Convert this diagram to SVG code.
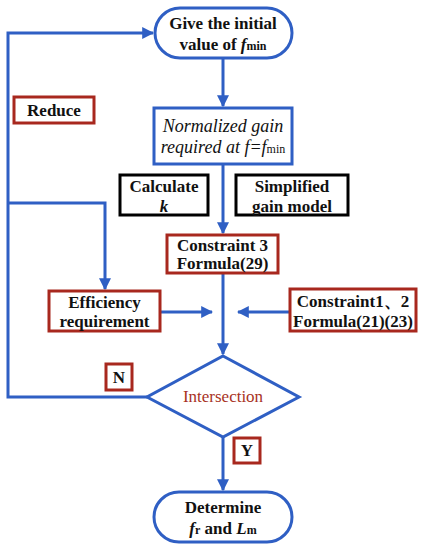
<svg xmlns="http://www.w3.org/2000/svg" width="429" height="550" viewBox="0 0 429 550">
<defs>
<marker id="ah" viewBox="0 0 10 10" refX="9" refY="5" markerWidth="4" markerHeight="4" markerUnits="strokeWidth" orient="auto">
<path d="M0,0 L10,5 L0,10 z" fill="#2f5fc4"/>
</marker>
<style>
.b{fill:#fff;stroke:#2f5fc4;stroke-width:3}
.r{fill:#fff;stroke:#a8281e;stroke-width:3}
.k{fill:#fff;stroke:#000;stroke-width:3}
.c{fill:none;stroke:#2f5fc4;stroke-width:3}
text{font-weight:bold;font-size:17px;fill:#111;text-anchor:middle}
.i{font-style:italic}
.s{font-size:12px}
</style>
</defs>
<g id="connectors">
<path class="c" d="M223,58 V106" marker-end="url(#ah)"/>
<path class="c" d="M223,164 V233" marker-end="url(#ah)"/>
<path class="c" d="M223,273 V354" marker-end="url(#ah)"/>
<path class="c" d="M223,437 V490" marker-end="url(#ah)"/>
<path class="c" d="M147,397 H8 V33 H153" marker-end="url(#ah)"/>
<path class="c" d="M8,203 H105 V289" marker-end="url(#ah)"/>
<path class="c" d="M160,312 H212" marker-end="url(#ah)"/>
<path class="c" d="M290,312 H238" marker-end="url(#ah)"/>
</g>
<g font-family="Liberation Serif, DejaVu Serif, serif">
<g id="start">
<rect class="b" x="155" y="8" width="137" height="50" rx="25"/>
<text x="223" y="29">Give the initial</text>
<text x="223" y="50">value of <tspan class="i">f</tspan><tspan class="s">min</tspan></text>
</g>
<g id="reduce">
<rect class="r" x="14" y="97" width="80" height="26"/>
<text x="54" y="116">Reduce</text>
</g>
<g id="normalized">
<rect class="b" x="154" y="108" width="138" height="56"/>
<text x="223" y="132" class="i" style="font-weight:normal;font-size:18px">Normalized gain</text>
<text x="223" y="153" class="i" style="font-weight:normal;font-size:18px">required at f=f<tspan class="s" style="font-style:normal">min</tspan></text>
</g>
<g id="calc">
<rect class="k" x="120" y="175" width="88" height="40"/>
<text x="164" y="192">Calculate</text>
<text x="164" y="212" class="i">k</text>
</g>
<g id="simplified">
<rect class="k" x="236" y="175" width="112" height="40"/>
<text x="292" y="192">Simplified</text>
<text x="292" y="212">gain model</text>
</g>
<g id="constraint3">
<rect class="r" x="167" y="235" width="111" height="38"/>
<text x="222.5" y="251">Constraint 3</text>
<text x="222.5" y="269">Formula(29)</text>
</g>
<g id="efficiency">
<rect class="r" x="49" y="291" width="111" height="40"/>
<text x="104.5" y="308">Efficiency</text>
<text x="104.5" y="327">requirement</text>
</g>
<g id="constraint12">
<rect class="r" x="290" y="289" width="126" height="42"/>
<text x="353" y="307">Constraint1、2</text>
<text x="353" y="327">Formula(21)(23)</text>
</g>
<g id="intersection">
<polygon class="b" points="223,356 299,397 223,437 147,397"/>
<text x="223" y="402" style="fill:#a8321e;font-weight:normal">Intersection</text>
</g>
<g id="n">
<rect class="r" x="106" y="364" width="26" height="26"/>
<text x="119" y="383">N</text>
</g>
<g id="y">
<rect class="r" x="234" y="438" width="26" height="25"/>
<text x="247" y="456">Y</text>
</g>
<g id="end">
<rect class="b" x="154" y="492" width="138" height="50" rx="25"/>
<text x="223" y="513">Determine</text>
<text x="223" y="534"><tspan class="i">f</tspan><tspan class="s">r</tspan> and <tspan class="i">L</tspan><tspan class="s">m</tspan></text>
</g>
</g>
</svg>
